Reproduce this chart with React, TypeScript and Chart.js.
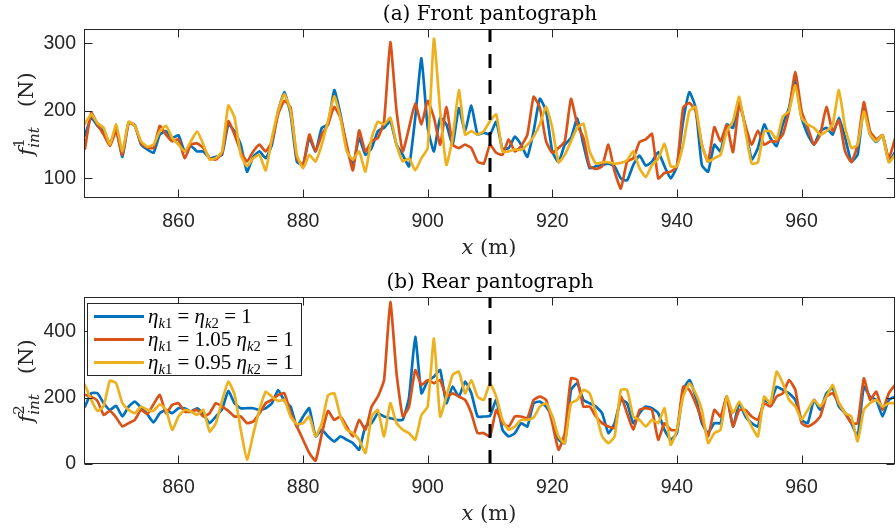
import React, { useEffect, useRef } from "react";
import { Chart, registerables } from "chart.js";

Chart.register(...registerables);

// Distance along the line (m); one sample per metre
const X_START = 845;
const X_END = 975;
const X_TICKS = [860, 880, 900, 920, 940, 960];
const SECTION_MARK = 910;

const FRONT_Y_TICKS = [100, 200, 300];
const REAR_Y_TICKS = [0, 200, 400];

// Front pantograph contact force (N)
const FRONT_NOMINAL = [
  164, 190, 178, 170, 152, 172, 132, 182, 179, 150,
  143, 138, 165, 170, 160, 164, 140, 148, 140, 140,
  130, 132, 135, 180, 170, 150, 110, 132, 140, 130,
  150, 200, 228, 195, 125, 120, 160, 140, 175, 180,
  231, 195, 145, 120, 160, 135, 145, 170, 175, 185,
  150, 135, 118, 190, 278, 175, 140, 190, 180, 150,
  204, 170, 208, 165, 168, 165, 184, 144, 145, 162,
  150, 132, 170, 218, 200, 140, 124, 150, 160, 189,
  150, 115, 118, 120, 122, 118, 100, 97, 120, 134,
  119, 125, 139, 118, 100, 118, 185, 228, 205, 120,
  110, 150, 140, 180, 175, 215, 175, 128, 145, 180,
  160, 148, 180, 205, 248, 190, 165, 150, 170, 175,
  165, 190, 160, 125, 135, 205, 165, 154, 164, 125,
  139,
];
const FRONT_K1_105 = [
  144, 197, 180, 165, 148, 170, 135, 183, 178, 152,
  146, 145, 178, 165, 155, 158, 130, 150, 152, 145,
  130, 128, 138, 185, 165, 140, 125, 140, 150, 140,
  155, 195, 215, 205, 130, 120, 165, 140, 165, 180,
  206, 190, 150, 112, 171, 140, 155, 160, 185, 302,
  200, 140, 175, 211, 180, 215, 190, 150, 206, 150,
  145, 150, 145, 125, 122, 150, 138, 135, 158, 140,
  148, 165, 221, 205, 155, 138, 145, 155, 218, 180,
  160, 118, 114, 118, 150, 110, 85, 125, 130, 154,
  158, 166, 100, 108, 110, 118, 205, 212, 200, 150,
  125, 176, 155, 179, 139, 210, 178, 150, 171, 150,
  155, 155, 165, 200, 258, 200, 175, 150, 165, 206,
  170, 186, 140, 124, 150, 213, 170, 158, 164, 130,
  159,
];
const FRONT_K1_095 = [
  181, 195, 182, 175, 150, 180, 140, 184, 178, 155,
  147, 150, 170, 178, 160, 150, 140, 155, 170, 150,
  128, 130, 140, 208, 190, 135, 118, 130, 135, 112,
  160, 200, 225, 200, 135, 115, 135, 125, 150, 185,
  222, 190, 140, 128, 140, 110, 160, 184, 180, 190,
  150, 125, 130, 112, 130, 145, 307, 200, 120, 160,
  231, 165, 170, 165, 170, 185, 195, 140, 140, 143,
  142, 150, 162, 180, 206, 175, 124, 135, 155, 175,
  181, 140, 122, 124, 124, 122, 123, 127, 140, 115,
  102, 120, 129, 151, 118, 118, 150, 200, 206, 150,
  125, 130, 135, 170, 185, 221, 170, 122, 124, 170,
  170, 158, 192, 200, 238, 190, 180, 175, 165, 170,
  180, 231, 175, 145, 150, 199, 165, 155, 164, 124,
  135,
];

// Rear pantograph contact force (N)
const REAR_NOMINAL = [
  173, 213, 213, 183, 163, 175, 143, 173, 188, 170,
  150, 125, 153, 163, 153, 168, 168, 158, 168, 150,
  123, 143, 165, 220, 183, 168, 168, 168, 163, 168,
  183, 223, 190, 173, 113, 143, 168, 83, 103, 83,
  68, 83, 73, 63, 43, 113, 123, 153, 143, 138,
  133, 133, 200, 383, 213, 250, 263, 283, 183, 233,
  203, 248, 213, 143, 143, 145, 193, 103, 83, 93,
  123, 113, 183, 188, 173, 143, 73, 63, 223, 243,
  193, 183, 173, 153, 93, 123, 193, 183, 123, 153,
  173, 168, 153, 103, 73, 93, 223, 253, 203, 123,
  93, 123, 123, 203, 113, 183, 143, 123, 113, 193,
  183, 233, 223, 213, 193, 133, 123, 193, 163, 213,
  228, 173, 153, 123, 83, 233, 203, 193, 143, 193,
  203,
];
const REAR_K1_105 = [
  208, 203, 190, 148, 160, 140, 113, 123, 133, 163,
  150, 180, 208, 153, 178, 183, 158, 158, 163, 143,
  153, 183, 173, 160, 143, 143, 123, 128, 153, 183,
  193, 208, 213, 153, 113, 73, 33, 10, 90, 160,
  133, 143, 113, 83, 133, 103, 173, 203, 253, 488,
  273, 143, 173, 283, 238, 253, 243, 253, 203, 213,
  203, 193, 153, 93, 93, 83, 163, 123, 113, 143,
  143, 138, 193, 203, 193, 123, 43, 93, 258, 253,
  173, 173, 143, 123, 113, 108, 203, 153, 103, 163,
  168, 163, 73, 123, 103, 103, 233, 223, 183, 133,
  83, 163, 143, 203, 113, 163, 163, 143, 133, 183,
  173, 203, 213, 253, 223, 123, 113, 123, 143, 203,
  213, 183, 153, 123, 123, 258, 193, 218, 163, 213,
  238,
];
const REAR_K1_095 = [
  238, 193, 160, 175, 251, 243, 183, 163, 153, 173,
  163, 160, 180, 163, 103, 143, 163, 158, 148, 163,
  98, 123, 190, 248, 210, 103, 13, 90, 163, 218,
  203, 190, 193, 143, 120, 123, 143, 83, 123, 207,
  213, 143, 103, 93, 73, 33, 143, 163, 83, 183,
  123, 103, 93, 73, 148, 173, 378, 143, 203, 268,
  278, 213, 253, 203, 193, 243, 203, 133, 103, 113,
  133, 133, 140, 173, 183, 143, 83, 63, 183, 193,
  223, 213, 153, 83, 63, 83, 223, 223, 143, 133,
  113, 133, 123, 168, 58, 103, 203, 243, 213, 163,
  63, 93, 103, 203, 153, 188, 153, 113, 83, 203,
  183, 278, 243, 193, 173, 133, 163, 193, 173, 203,
  238, 183, 153, 143, 68, 163, 183, 193, 173, 183,
  183,
];

const COLORS = ["#0072BD", "#D95319", "#EDB120"];
const AXIS_COLOR = "#262626";
const SERIF = "'DejaVu Serif', serif";
const LEGEND_SERIF = "'Liberation Serif', serif";
const SANS = "'Liberation Sans', Arial, sans-serif";

type Run = { t: string; it?: boolean; dy?: number; k?: number; stack?: boolean };

const runFont = (r: Run, size: number, fam: string) =>
  `${r.it ? "italic " : ""}${(size * (r.k ?? 1)).toFixed(2)}px ${fam}`;

function measureRich(ctx: CanvasRenderingContext2D, runs: Run[], size: number, fam: string) {
  let cx = 0;
  let prevStart = 0;
  for (const r of runs) {
    ctx.font = runFont(r, size, fam);
    const w = ctx.measureText(r.t).width;
    const start = r.stack ? prevStart : cx;
    cx = r.stack ? Math.max(cx, start + w) : start + w;
    prevStart = start;
  }
  return cx;
}

function drawRich(
  ctx: CanvasRenderingContext2D,
  runs: Run[],
  x: number,
  y: number,
  size: number,
  fam: string,
  align: "left" | "center"
) {
  const total = measureRich(ctx, runs, size, fam);
  let cx = align === "center" ? x - total / 2 : x;
  let prevStart = cx;
  ctx.textAlign = "left";
  ctx.textBaseline = "alphabetic";
  for (const r of runs) {
    ctx.font = runFont(r, size, fam);
    const w = ctx.measureText(r.t).width;
    const start = r.stack ? prevStart : cx;
    ctx.fillText(r.t, start, y + (r.dy ?? 0) * size);
    cx = r.stack ? Math.max(cx, start + w) : start + w;
    prevStart = start;
  }
}

const eta = (idx: string): Run[] => [
  { t: "η", it: true },
  { t: "k", it: true, k: 0.7, dy: 0.25 },
  { t: idx, k: 0.7, dy: 0.25 },
];

const LEGEND_ROWS: Run[][] = [
  [...eta("1"), { t: " = " }, ...eta("2"), { t: " = 1" }],
  [...eta("1"), { t: " = 1.05 " }, ...eta("2"), { t: " = 1" }],
  [...eta("1"), { t: " = 0.95 " }, ...eta("2"), { t: " = 1" }],
];

type FrameOpts = {
  title: string;
  sup: string;
  yTicks: number[];
  legend: boolean;
};

const framePlugin = {
  id: "frame",
  afterDraw(chart: any, _args: any, opts: FrameOpts) {
    const { ctx, chartArea: a, scales } = chart;
    const L = a.left - 0.5;
    const R = a.right - 0.5;
    const T = a.top - 0.5;
    const B = a.bottom - 0.5;
    const tick = 8;
    ctx.save();
    ctx.strokeStyle = AXIS_COLOR;
    ctx.lineWidth = 1;
    ctx.setLineDash([]);
    ctx.strokeRect(L, T, R - L, B - T);
    ctx.beginPath();
    for (const v of X_TICKS) {
      const px = Math.round(scales.x.getPixelForValue(v)) + 0.5;
      ctx.moveTo(px, B);
      ctx.lineTo(px, B - tick);
      ctx.moveTo(px, T);
      ctx.lineTo(px, T + tick);
    }
    for (const v of opts.yTicks) {
      const py = Math.round(scales.y.getPixelForValue(v)) + 0.5;
      ctx.moveTo(L, py);
      ctx.lineTo(L + tick, py);
      ctx.moveTo(R, py);
      ctx.lineTo(R - tick, py);
    }
    ctx.stroke();

    ctx.fillStyle = "#000";
    const cxMid = (a.left + a.right) / 2;
    drawRich(ctx, [{ t: opts.title }], cxMid, a.top - 10.5, 20, SERIF, "center");
    ctx.fillStyle = AXIS_COLOR;
    drawRich(ctx, [{ t: "x", it: true }, { t: " (m)" }], cxMid - 1, a.bottom + 56, 21, SERIF, "center");

    ctx.save();
    ctx.translate(33, (a.top + a.bottom) / 2);
    ctx.rotate(-Math.PI / 2);
    drawRich(
      ctx,
      [
        { t: "f", it: true },
        { t: opts.sup, k: 0.72, dy: -0.42 },
        { t: "int", it: true, k: 0.72, dy: 0.3, stack: true },
        { t: "   (N)" },
      ],
      0,
      0,
      21,
      SERIF,
      "center"
    );
    ctx.restore();

    if (opts.legend) {
      const bx = 87.5;
      const by = a.top + 5.5;
      const bw = 214;
      const bh = 72;
      ctx.fillStyle = "#fff";
      ctx.fillRect(bx, by, bw, bh);
      ctx.strokeStyle = AXIS_COLOR;
      ctx.lineWidth = 1;
      ctx.strokeRect(bx, by, bw, bh);
      LEGEND_ROWS.forEach((runs, i) => {
        const ry = by + 13 + i * 23;
        ctx.strokeStyle = COLORS[i];
        ctx.lineWidth = 3;
        ctx.beginPath();
        ctx.moveTo(94, ry);
        ctx.lineTo(144, ry);
        ctx.stroke();
        ctx.fillStyle = "#000";
        drawRich(ctx, runs, 148, ry + 6, 21, LEGEND_SERIF, "left");
      });
    }
    ctx.restore();
  },
};

type PanelProps = {
  series: number[][];
  yMin: number;
  yMax: number;
  yTicks: number[];
  title: string;
  sup: string;
  height: number;
  plotTop: number;
  plotBottom: number;
  legend: boolean;
};

function Panel(p: PanelProps) {
  const ref = useRef<HTMLCanvasElement>(null);
  useEffect(() => {
    const canvas = ref.current;
    if (!canvas) return;
    const datasets: any[] = p.series.map((vals, k) => ({
      label: `series${k}`,
      data: vals.map((v, i) => ({ x: X_START + i, y: v })),
      borderColor: COLORS[k],
      borderWidth: 2.7,
      pointRadius: 0,
      tension: 0.15,
      borderJoinStyle: "round",
      borderCapStyle: "round",
      order: 3 - k,
      clip: 0,
    }));
    datasets.push({
      label: "section",
      data: [
        { x: SECTION_MARK, y: p.yMin },
        { x: SECTION_MARK, y: p.yMax },
      ],
      borderColor: "#000",
      borderWidth: 3,
      borderDash: [14, 12],
      pointRadius: 0,
      order: 0,
      clip: 0,
    });
    const chart = new Chart(canvas, {
      type: "line",
      data: { datasets },
      plugins: [framePlugin],
      options: {
        animation: false,
        responsive: false,
        devicePixelRatio: 1,
        events: [],
        layout: { padding: { top: p.plotTop, left: 0, right: 1, bottom: 0 } },
        plugins: {
          legend: { display: false },
          tooltip: { enabled: false },
          title: { display: false },
          frame: { title: p.title, sup: p.sup, yTicks: p.yTicks, legend: p.legend },
        } as any,
        scales: {
          x: {
            type: "linear",
            min: X_START,
            max: X_END,
            grid: { display: false, drawTicks: false },
            border: { display: false },
            ticks: {
              font: { family: SANS, size: 19.5 },
              color: AXIS_COLOR,
              padding: 12,
              maxRotation: 0,
            },
            afterBuildTicks: (s: any) => {
              s.ticks = X_TICKS.map((v) => ({ value: v }));
            },
            afterFit: (s: any) => {
              s.height = p.height - p.plotBottom;
            },
          },
          y: {
            type: "linear",
            min: p.yMin,
            max: p.yMax,
            grid: { display: false, drawTicks: false },
            border: { display: false },
            ticks: {
              font: { family: SANS, size: 19.5 },
              color: AXIS_COLOR,
              padding: 9,
            },
            afterBuildTicks: (s: any) => {
              s.ticks = p.yTicks.map((v) => ({ value: v }));
            },
            afterFit: (s: any) => {
              s.width = 85;
            },
          },
        },
      } as any,
    });
    return () => chart.destroy();
  }, []);
  return (
    <canvas
      ref={ref}
      width={896}
      height={p.height}
      style={{ display: "block", width: 896, height: p.height }}
    />
  );
}

export default function App() {
  return (
    <div style={{ position: "absolute", left: 0, top: 0, width: 896, height: 531, background: "#fff" }}>
      <Panel
        series={[FRONT_NOMINAL, FRONT_K1_105, FRONT_K1_095]}
        yMin={71}
        yMax={320}
        yTicks={FRONT_Y_TICKS}
        title="(a) Front pantograph"
        sup="1"
        height={265}
        plotTop={30}
        plotBottom={198}
        legend={false}
      />
      <Panel
        series={[REAR_NOMINAL, REAR_K1_105, REAR_K1_095]}
        yMin={0}
        yMax={500}
        yTicks={REAR_Y_TICKS}
        title="(b) Rear pantograph"
        sup="2"
        height={266}
        plotTop={33}
        plotBottom={199}
        legend={true}
      />
    </div>
  );
}
